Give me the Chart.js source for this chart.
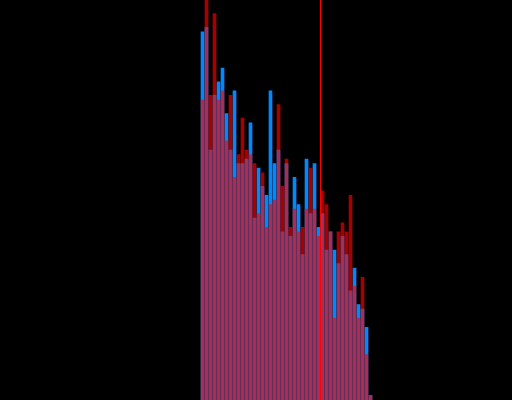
<!DOCTYPE html>
<html>
<head>
<meta charset="utf-8">
<script src="https://cdn.jsdelivr.net/npm/chart.js@4/dist/chart.umd.min.js"></script>
<style>
  html, body { margin: 0; padding: 0; background: #000; }
  canvas { display: block; background: #000; }
</style>
</head>
<body>
<canvas id="c" width="512" height="400"></canvas>
<script>
// Bin numbers (x categories)
const bins = [1,2,3,4,5,6,7,8,9,10,11,12,13,14,15,16,17,18,19,20,21,22,23,24,25,26,27,28,29,30,31,32,33,34,35,36,37,38,39,40,41,42,43];
// Series values (counts per bin)
const blueSeries = [81,82,55,67,70,73,63,55,68,52,52,53,61,40,51,47,45,68,52,55,37,52,36,49,43,32,53,41,52,38,41,33,37,33,30,36,32,24,29,21,20,16,1];
const redSeries  = [66,88,67,85,66,68,57,67,49,54,62,55,54,52,41,50,38,43,44,65,47,53,38,42,37,38,42,51,42,36,46,43,37,18,37,39,37,45,25,18,27,10,1];
// Vertical marker position (in bin units)
const markerBin = 30.5;
// Axis ranges
const xRange = [-49.625, 78.375];
const yRange = [0, 88];

const markerPlugin = {
  id: 'marker',
  afterDatasetsDraw(chart) {
    const ctx = chart.ctx;
    const xs = chart.scales.x;
    const area = chart.chartArea;
    const px = xs.getPixelForValue(markerBin);
    ctx.save();
    ctx.strokeStyle = 'rgb(255,0,0)';
    ctx.lineWidth = 1;
    ctx.beginPath();
    ctx.moveTo(px, area.top);
    ctx.lineTo(px, area.bottom);
    ctx.stroke();
    ctx.restore();
  }
};

new Chart(document.getElementById('c'), {
  type: 'bar',
  data: {
    datasets: [
      {
        data: bins.map((b, i) => ({ x: b, y: redSeries[i] })),
        backgroundColor: 'rgba(255,0,0,0.65)',
        borderWidth: 0,
        barThickness: 3,
        grouped: false
      },
      {
        data: bins.map((b, i) => ({ x: b, y: blueSeries[i] })),
        backgroundColor: 'rgb(0,136,255)',
        borderWidth: 0,
        barThickness: 3,
        grouped: false
      }
    ]
  },
  options: {
    responsive: false,
    animation: false,
    layout: { padding: 0 },
    plugins: { legend: { display: false }, tooltip: { enabled: false } },
    scales: {
      x: { type: 'linear', display: false, min: xRange[0], max: xRange[1], offset: false },
      y: { display: false, min: yRange[0], max: yRange[1], grace: 0 }
    }
  },
  plugins: [markerPlugin]
});
</script>
</body>
</html>
